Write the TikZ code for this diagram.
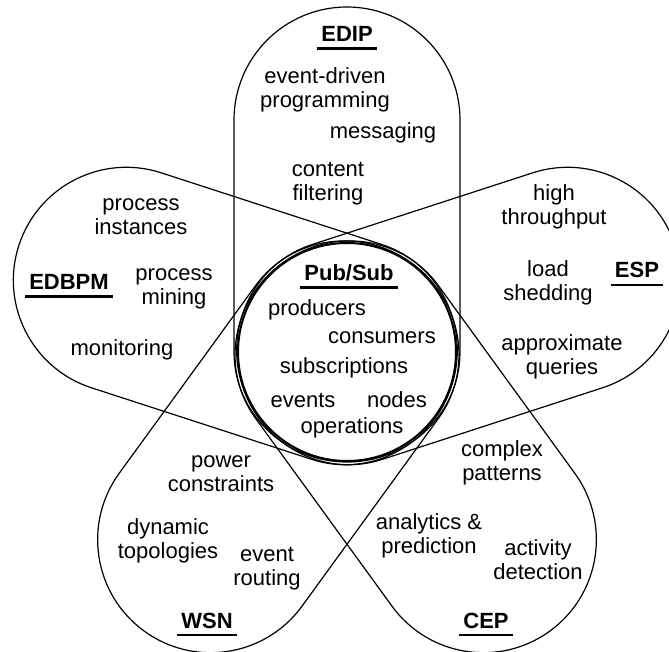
\documentclass[tikz,border=0pt]{standalone}
\usepackage{fontspec}
\setmainfont{Liberation Sans}
\begin{document}
\begin{tikzpicture}[x=0.5pt, y=0.5pt,
    petal/.style={line width=0.6pt},
    item/.style={align=center, inner sep=0pt, font=\fontsize{11}{12}\selectfont},
    hd/.style={anchor=base, inner xsep=2pt, inner ysep=3.2pt, font=\fontsize{11}{12}\selectfont\bfseries},
    ul/.style={line width=1.4pt}]
    \useasboundingbox (0,0) rectangle (669,-652);
    \clip (0,0) rectangle (669,-652);

    % Five petals around the centre
    \foreach \a in {90,18,-54,-126,162}
        \draw[petal, shift={(347,-352)}, rotate=\a]
            (0,-113) -- (232,-113) arc[start angle=-90, end angle=90, radius=56.5pt]
            -- (0,113) arc[start angle=90, end angle=270, x radius=55pt, y radius=56.5pt] -- cycle;

    % Pub/Sub core
    \draw[line width=1pt] (347,-352) circle[radius=54.5pt];
    \node[hd] (ps) at (349,-280) {Pub/Sub};
    \draw[ul] (ps.south west) -- (ps.south east);
    \node[item] (prod) at (317,-310) {producers};
    \node[item] (cons) at (382,-338) {consumers};
    \node[item] (subs) at (344,-368) {subscriptions};
    \node[item] (evts) at (303,-400) {events};
    \node[item] (nds) at (397,-400) {nodes};
    \node[item] (ops) at (352,-428) {operations};

    % EDIP (top)
    \node[hd] (edip) at (347,-42) {EDIP};
    \draw[ul] (edip.south west) -- (edip.south east);
    \node[item] (evd) at (325,-90) {event-driven\\programming};
    \node[item] (msg) at (383,-133) {messaging};
    \node[item] (cnt) at (328,-184) {content\\filtering};

    % EDBPM (left)
    \node[hd] (edbpm) at (69,-290) {EDBPM};
    \draw[ul] (edbpm.south west) -- (edbpm.south east);
    \node[item] (pin) at (141,-217) {process\\instances};
    \node[item] (pmi) at (174,-289) {process\\mining};
    \node[item] (mon) at (122,-350) {monitoring};

    % ESP (right)
    \node[hd] (esp) at (637,-278) {ESP};
    \draw[ul] (esp.south west) -- (esp.south east);
    \node[item] (thr) at (554,-207) {high\\throughput};
    \node[item] (lsh) at (548,-283) {load\\shedding};
    \node[item] (apq) at (562,-357) {approximate\\queries};

    % CEP (bottom right)
    \node[hd] (cep) at (486,-628) {CEP};
    \draw[ul] (cep.south west) -- (cep.south east);
    \node[item] (cpx) at (502,-463) {complex\\patterns};
    \node[item] (anp) at (429,-536) {analytics \&\\prediction};
    \node[item] (act) at (538,-560) {activity\\detection};

    % WSN (bottom left)
    \node[hd] (wsn) at (207,-628) {WSN};
    \draw[ul] (wsn.south west) -- (wsn.south east);
    \node[item] (pow) at (221,-474) {power\\constraints};
    \node[item] (dyn) at (168,-541) {dynamic\\topologies};
    \node[item] (rou) at (267,-569) {event\\routing};
\end{tikzpicture}
\end{document}
